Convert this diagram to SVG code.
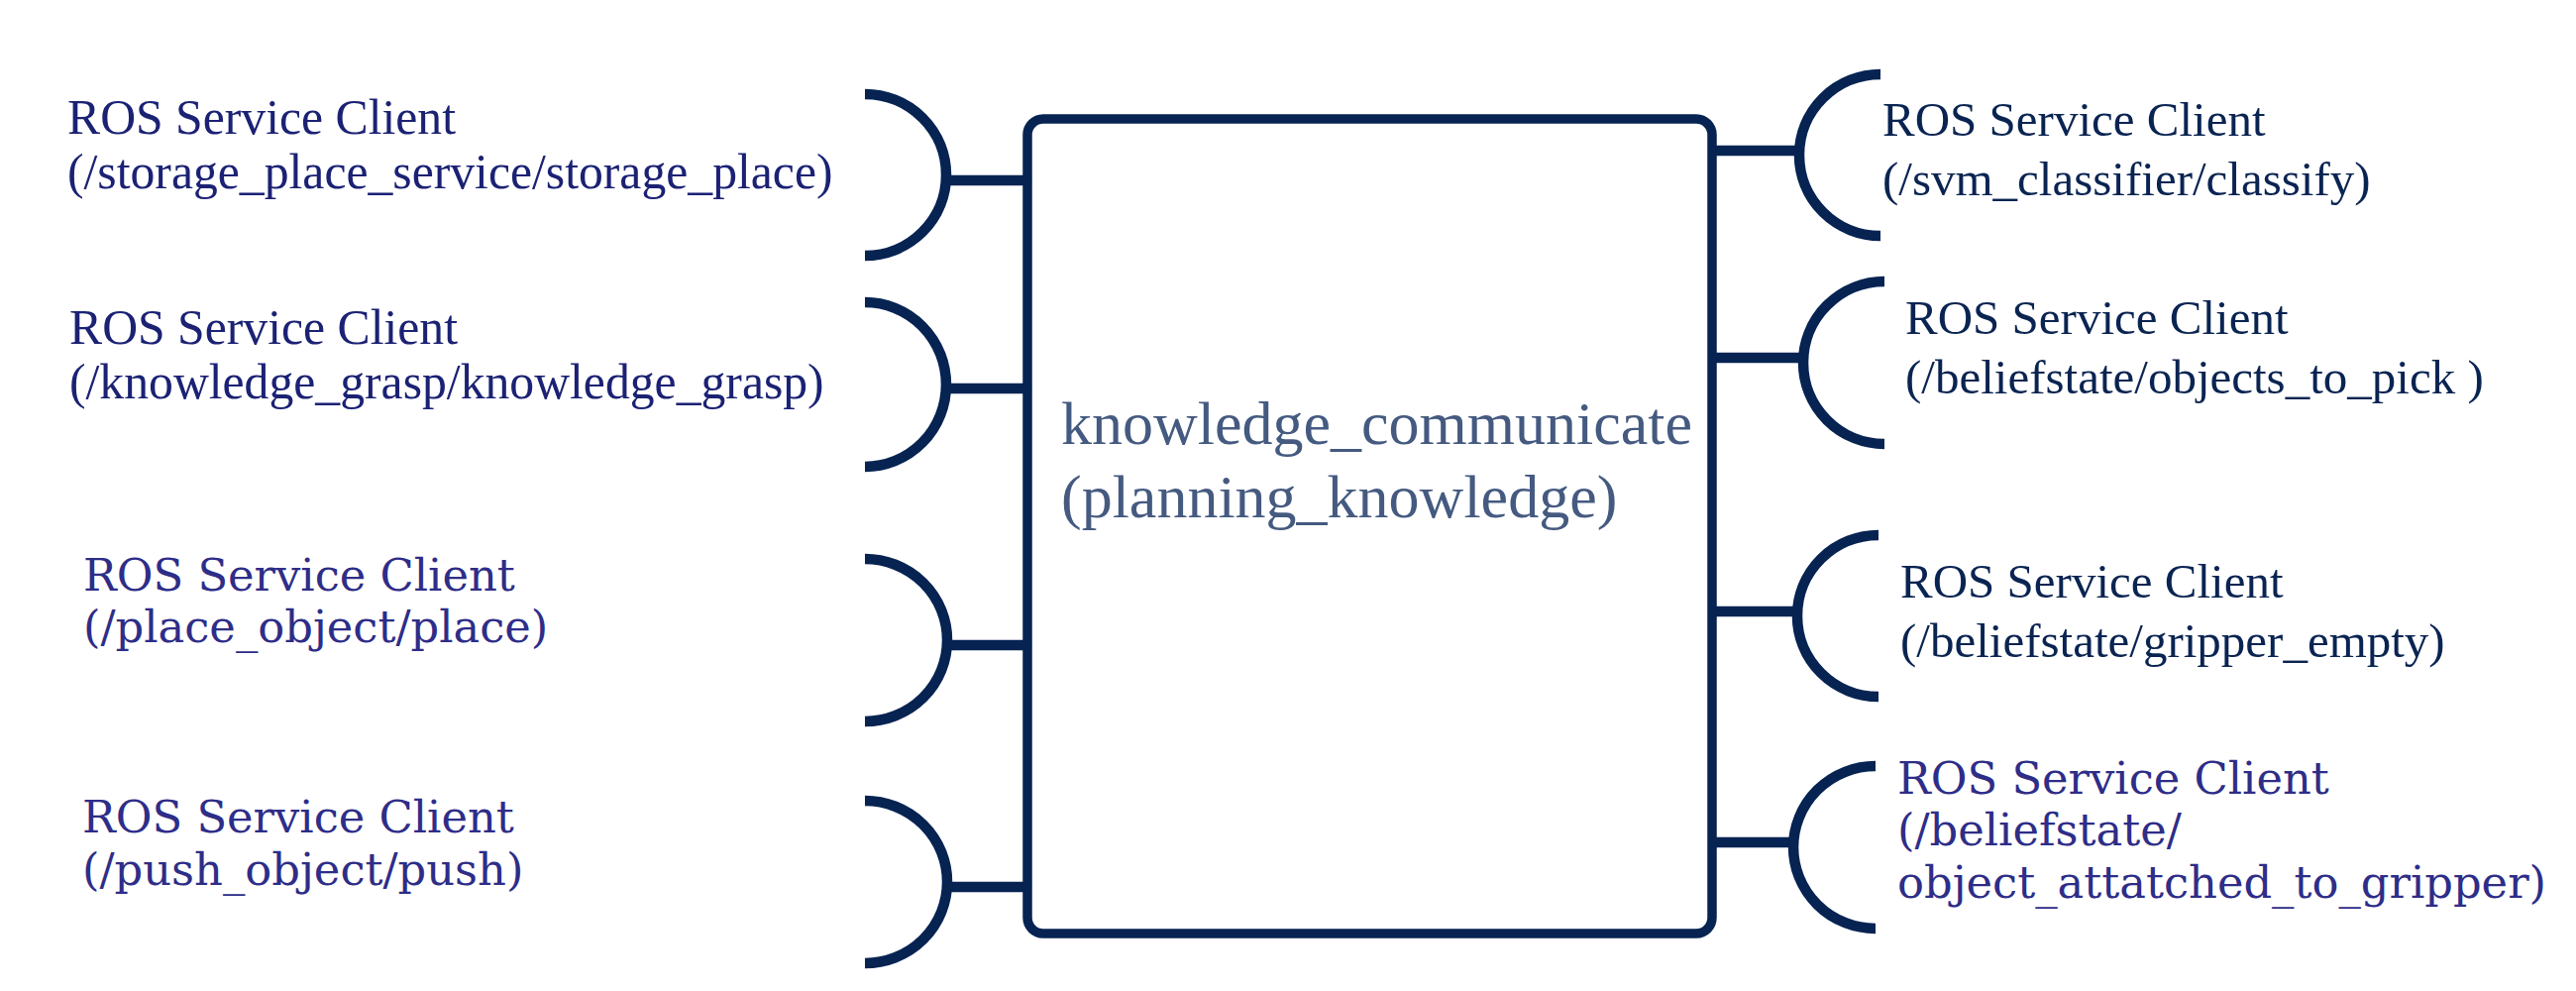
<svg xmlns="http://www.w3.org/2000/svg" width="2600" height="1000" viewBox="0 0 2600 1000">
<style>
.ln{stroke:#062352;stroke-width:10.5;fill:none}
.box{stroke:#062352;stroke-width:9.5;fill:#ffffff}
.t1{font-family:"Liberation Serif","Times New Roman",serif;font-size:49.7px;fill:#1b2274}
.t2{font-family:"DejaVu Serif",serif;font-size:44.8px;fill:#2e2d88}
.t3{font-family:"Liberation Serif","Times New Roman",serif;font-size:49px;fill:#0a2452}
.tc{font-family:"Liberation Serif","Times New Roman",serif;font-size:62px;fill:#455a80}
</style>
<rect width="2600" height="1000" fill="#ffffff"/>
<g id="connectors">
<line class="ln" x1="955" y1="182" x2="1037" y2="182"/>
<line class="ln" x1="955" y1="392" x2="1037" y2="392"/>
<line class="ln" x1="955" y1="651" x2="1037" y2="651"/>
<line class="ln" x1="955" y1="895" x2="1037" y2="895"/>
<line class="ln" x1="1728" y1="152" x2="1817" y2="152"/>
<line class="ln" x1="1728" y1="361" x2="1819" y2="361"/>
<line class="ln" x1="1728" y1="617" x2="1814" y2="617"/>
<line class="ln" x1="1728" y1="850" x2="1810" y2="850"/>
</g>
<g id="main">
<rect class="box" x="1037" y="120" width="691" height="822" rx="16"/>
<text class="tc" x="1071" y="448">knowledge_communicate</text>
<text class="tc" x="1071" y="522">(planning_knowledge)</text>
</g>
<g id="L1">
<path class="ln" d="M873,95 A82,81.5 0 0 1 873,258"/>
<text class="t1" x="68" y="135">ROS Service Client</text>
<text class="t1" x="68" y="190">(/storage_place_service/storage_place)</text>
</g>
<g id="L2">
<path class="ln" d="M873,305 A82,83 0 0 1 873,471"/>
<text class="t1" x="70" y="347">ROS Service Client</text>
<text class="t1" x="70" y="402">(/knowledge_grasp/knowledge_grasp)</text>
</g>
<g id="L3">
<path class="ln" d="M873,564 A83,82 0 0 1 873,728"/>
<text class="t2" x="84" y="596">ROS Service Client</text>
<text class="t2" x="84" y="648">(/place_object/place)</text>
</g>
<g id="L4">
<path class="ln" d="M873,808 A83,82 0 0 1 873,972"/>
<text class="t2" x="83" y="840">ROS Service Client</text>
<text class="t2" x="83" y="893">(/push_object/push)</text>
</g>
<g id="R1">
<path class="ln" d="M1898,75 A82,81.5 0 0 0 1898,238"/>
<text class="t3" x="1900" y="137">ROS Service Client</text>
<text class="t3" x="1900" y="197">(/svm_classifier/classify)</text>
</g>
<g id="R2">
<path class="ln" d="M1902,284 A82,82 0 0 0 1902,448"/>
<text class="t3" x="1923" y="337">ROS Service Client</text>
<text class="t3" x="1923" y="397" xml:space="preserve">(/beliefstate/objects_to_pick )</text>
</g>
<g id="R3">
<path class="ln" d="M1896,540 A82,81.5 0 0 0 1896,703"/>
<text class="t3" x="1918" y="603">ROS Service Client</text>
<text class="t3" x="1918" y="663">(/beliefstate/gripper_empty)</text>
</g>
<g id="R4">
<path class="ln" d="M1893,773 A83,82 0 0 0 1893,937"/>
<text class="t2" x="1915" y="801">ROS Service Client</text>
<text class="t2" x="1915" y="853">(/beliefstate/</text>
<text class="t2" x="1915" y="906">object_attatched_to_gripper)</text>
</g>
</svg>
